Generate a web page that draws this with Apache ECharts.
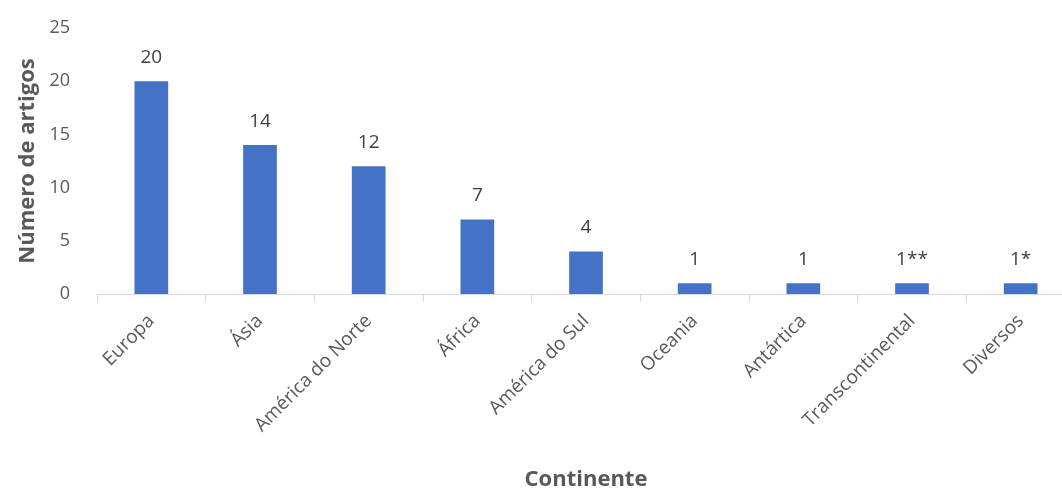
<!DOCTYPE html>
<html><head><meta charset="utf-8">
<script src="https://cdn.jsdelivr.net/npm/echarts@6/dist/echarts.min.js"></script>
<style>html,body{margin:0;padding:0;background:#fff}#c{width:1062px;height:490px}</style>
</head><body><div id="c"></div>
<script>
const categories = ["Europa","Ásia","América do Norte","África","América do Sul","Oceania","Antártica","Transcontinental","Diversos"];
const values = [20,14,12,7,4,1,1,1,1];
const valueLabels = ["20","14","12","7","4","1","1","1**","1*"];
const yTicks = [0,5,10,15,20,25];

const chart = echarts.init(document.getElementById('c'));
const font = '"Open Sans", "Noto Sans", sans-serif';
chart.setOption({
  animation:false,
  grid:{left:97, top:28, width:978, height:266, containLabel:false, outerBoundsMode:'none'},
  xAxis:{
    type:'category', data:categories,
    name:'Continente', nameLocation:'middle', nameGap:175,
    nameTextStyle:{fontFamily:font, fontSize:22, fontWeight:'bold', color:'#595959'},
    axisLine:{lineStyle:{color:'#d9d9d9', width:1}},
    axisTick:{show:true, length:8, lineStyle:{color:'#d9d9d9'}},
    axisLabel:{rotate:45, fontFamily:font, fontSize:19, color:'#595959', margin:24, interval:0}
  },
  yAxis:{
    type:'value', min:yTicks[0], max:yTicks[yTicks.length-1], interval:5,
    name:'Número de artigos', nameLocation:'middle', nameGap:58,
    nameTextStyle:{fontFamily:font, fontSize:22, fontWeight:'bold', color:'#595959'},
    axisLine:{show:false}, axisTick:{show:false}, splitLine:{show:false},
    axisLabel:{fontFamily:font, fontSize:18, color:'#595959', margin:27}
  },
  series:[{
    type:'bar', data:values, barWidth:'31%',
    itemStyle:{color:'#4472c4'},
    label:{show:true, position:'top', distance:14, fontFamily:font, fontSize:19, color:'#404040',
      formatter:p=>valueLabels[p.dataIndex]}
  }]
});
</script></body></html>
